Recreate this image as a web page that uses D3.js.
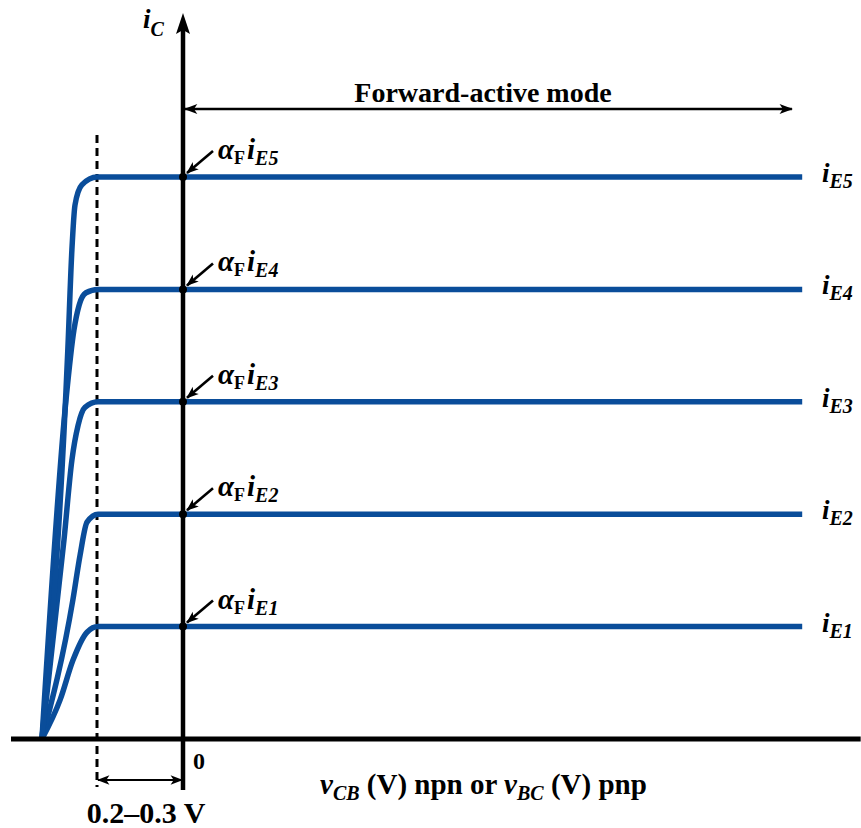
<!DOCTYPE html>
<html>
<head>
<meta charset="utf-8">
<script src="https://cdn.jsdelivr.net/npm/d3@7"></script>
<style>
  html, body { margin: 0; padding: 0; background: #fff; }
  svg text { font-family: "Liberation Serif", "Times New Roman", serif; font-weight: bold; fill: #000; }
</style>
</head>
<body>
<div id="chart"></div>
<script>
// emitter current levels (mA, schematic) and their labels
const levels = [1, 2, 3, 4, 5];
const levelNames = ["E1", "E2", "E3", "E4", "E5"];

// each curve: [vCB (V), iC (mA)]
const curveE1 = [[-0.41, 0], [-0.357, 0.35], [-0.32, 0.70], [-0.279, 0.95], [-0.247, 1], [1.8, 1]];
const curveE2 = [[-0.41, 0], [-0.32, 1.24], [-0.299, 1.64], [-0.279, 1.93], [-0.247, 2], [1.8, 2]];
const curveE3 = [[-0.41, 0], [-0.346, 1.77], [-0.323, 2.48], [-0.305, 2.79], [-0.285, 2.95], [-0.247, 3], [1.8, 3]];
const curveE4 = [[-0.41, 0], [-0.340, 3.02], [-0.317, 3.64], [-0.302, 3.86], [-0.282, 3.97], [-0.247, 4], [1.8, 4]];
const curveE5 = [[-0.41, 0], [-0.335, 3.45], [-0.323, 4.35], [-0.314, 4.75], [-0.294, 4.93], [-0.25, 5], [1.8, 5]];
const curves = [curveE1, curveE2, curveE3, curveE4, curveE5];

// annotation values
const saturationEdge = -0.25;   // dashed line, V
const activeArrowEnd = 1.77;    // end of "Forward-active mode" arrow, V
const xMin = -0.5, xMax = 1.97;

const width = 861, height = 828;
const blue = "#0a4d9a";

const svg = d3.select("#chart").append("svg")
  .attr("width", width)
  .attr("height", height);

const x = d3.scaleLinear().domain([-0.5, 2.0]).range([11, 871]);
const y = d3.scaleLinear().domain([0, 5]).range([739, 177]);

const defs = svg.append("defs");
function head(id, size) {
  defs.append("marker")
    .attr("id", id)
    .attr("viewBox", "0 -5 12 10")
    .attr("refX", 11).attr("refY", 0)
    .attr("markerUnits", "userSpaceOnUse")
    .attr("markerWidth", size).attr("markerHeight", size * 0.8)
    .attr("orient", "auto-start-reverse")
    .append("path")
    .attr("d", "M0,-4.5L12,0L0,4.5L3,0Z")
    .attr("fill", "#000");
}
head("arr", 14);
head("arrS", 13);

// dashed saturation edge
svg.append("line")
  .attr("x1", x(saturationEdge)).attr("x2", x(saturationEdge))
  .attr("y1", 135).attr("y2", 787)
  .attr("stroke", "#000").attr("stroke-width", 3)
  .attr("stroke-dasharray", "8,5");

// curves
const line = d3.line()
  .x(d => x(d[0]))
  .y(d => y(d[1]))
  .curve(d3.curveMonotoneX);

svg.selectAll("path.curve")
  .data(curves)
  .join("path")
  .attr("class", "curve")
  .attr("d", line)
  .attr("fill", "none")
  .attr("stroke", blue)
  .attr("stroke-width", 5.5)
  .attr("stroke-linejoin", "round");

// axes
svg.append("line")
  .attr("x1", x(xMin)).attr("x2", x(xMax))
  .attr("y1", y(0)).attr("y2", y(0))
  .attr("stroke", "#000").attr("stroke-width", 5);

svg.append("line")
  .attr("x1", x(0)).attr("x2", x(0))
  .attr("y1", 790).attr("y2", 30)
  .attr("stroke", "#000").attr("stroke-width", 4.5);

const x0 = x(0);
svg.append("path")
  .attr("d", `M${x0},13 L${x0 + 7},34 L${x0},30 L${x0 - 7},34 Z`)
  .attr("fill", "#000");

// y label iC
const yl = svg.append("text").attr("x", 143).attr("y", 28).attr("font-size", 27).attr("font-style", "italic");
yl.append("tspan").text("i");
yl.append("tspan").attr("dy", 8).attr("font-size", 20).text("C");

// forward-active arrow
svg.append("line")
  .attr("x1", x0 + 2).attr("x2", x(activeArrowEnd))
  .attr("y1", 109).attr("y2", 109)
  .attr("stroke", "#000").attr("stroke-width", 2.6)
  .attr("marker-start", "url(#arr)")
  .attr("marker-end", "url(#arr)");

svg.append("text")
  .attr("x", 483).attr("y", 102)
  .attr("text-anchor", "middle")
  .attr("font-size", 28)
  .text("Forward-active mode");

// intersection dots, arrows and labels
levels.forEach((lv, i) => {
  const yy = y(lv);
  svg.append("circle").attr("cx", x0).attr("cy", yy).attr("r", 4).attr("fill", "#000");

  svg.append("line")
    .attr("x1", 213).attr("y1", yy - 26)
    .attr("x2", x0 + 4).attr("y2", yy - 4)
    .attr("stroke", "#000").attr("stroke-width", 2.6)
    .attr("marker-end", "url(#arrS)");

  const t = svg.append("text").attr("x", 218).attr("y", yy - 18).attr("font-size", 29);
  t.append("tspan").attr("font-style", "italic").text("α");
  t.append("tspan").attr("dy", 5).attr("font-size", 18).text("F");
  t.append("tspan").attr("dy", -5).attr("dx", 2).attr("font-style", "italic").text("i");
  t.append("tspan").attr("dy", 6).attr("font-size", 20).attr("font-style", "italic").text(levelNames[i]);

  const r = svg.append("text").attr("x", 822).attr("y", yy + 5).attr("font-size", 27).attr("font-style", "italic");
  r.append("tspan").text("i");
  r.append("tspan").attr("dy", 6).attr("font-size", 20).text(levelNames[i]);
});

// zero tick label
svg.append("text").attr("x", 193).attr("y", 769).attr("font-size", 24).text("0");

// 0.2-0.3 V dimension arrow
svg.append("line")
  .attr("x1", x(saturationEdge) + 1).attr("x2", x0 - 1)
  .attr("y1", 780).attr("y2", 780)
  .attr("stroke", "#000").attr("stroke-width", 2)
  .attr("marker-start", "url(#arrS)")
  .attr("marker-end", "url(#arrS)");

svg.append("text")
  .attr("x", 146).attr("y", 823)
  .attr("text-anchor", "middle")
  .attr("font-size", 30)
  .text("0.2–0.3 V");

// x label
const xl = svg.append("text").attr("x", 320).attr("y", 794).attr("font-size", 29);
xl.append("tspan").attr("font-style", "italic").text("v");
xl.append("tspan").attr("dy", 6).attr("font-size", 20).attr("font-style", "italic").text("CB");
xl.append("tspan").attr("dy", -6).text(" (V) npn or ");
xl.append("tspan").attr("font-style", "italic").text("v");
xl.append("tspan").attr("dy", 6).attr("font-size", 20).attr("font-style", "italic").text("BC");
xl.append("tspan").attr("dy", -6).text(" (V) pnp");
</script>
</body>
</html>
